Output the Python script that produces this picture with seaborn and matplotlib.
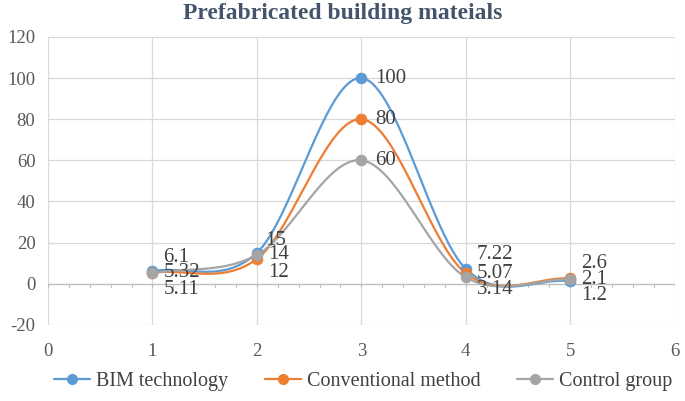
import numpy as np
import pandas as pd
import matplotlib
matplotlib.use('Agg')
import matplotlib.pyplot as plt
import seaborn as sns

# Data
x_vals = [1, 2, 3, 4, 5]
bim = [6.1, 15, 100, 7.22, 1.2]
conventional = [5.32, 12, 80, 5.07, 2.6]
control = [5.11, 14, 60, 3.14, 2.1]
series_names = ['BIM technology', 'Conventional method', 'Control group']
colors = ['#5B9BD5', '#ED7D31', '#A5A5A5']

# label placement per point: offsets in points (dx, dy)
label_offsets = {
    'BIM technology': [(8, 10), (6, 9), (10, 0), (8, 10), (8, -10)],
    'Conventional method': [(8, 0), (8, -10), (10, 0), (8, 0), (8, 11)],
    'Control group': [(8, -12), (8, 0), (10, 0), (8, -9), (8, 0)],
}


def smooth(xs, ys, n=40):
    # Catmull-Rom style smoothing similar to Excel "smoothed line"
    xs = np.asarray(xs, float)
    ys = np.asarray(ys, float)
    px = np.concatenate([[2 * xs[0] - xs[1]], xs, [2 * xs[-1] - xs[-2]]])
    py = np.concatenate([[2 * ys[0] - ys[1]], ys, [2 * ys[-1] - ys[-2]]])
    out_x, out_y = [], []
    t = np.linspace(0, 1, n)
    for i in range(1, len(px) - 2):
        p0x, p1x, p2x, p3x = px[i - 1:i + 3]
        p0y, p1y, p2y, p3y = py[i - 1:i + 3]
        h00 = 2 * t**3 - 3 * t**2 + 1
        h10 = t**3 - 2 * t**2 + t
        h01 = -2 * t**3 + 3 * t**2
        h11 = t**3 - t**2
        m1x, m2x = (p2x - p0x) / 2, (p3x - p1x) / 2
        m1y, m2y = (p2y - p0y) / 2, (p3y - p1y) / 2
        out_x.extend(h00 * p1x + h10 * m1x + h01 * p2x + h11 * m2x)
        out_y.extend(h00 * p1y + h10 * m1y + h01 * p2y + h11 * m2y)
    return np.array(out_x), np.array(out_y)


sns.set_style('white')
plt.rcParams['font.family'] = ['Liberation Serif', 'DejaVu Serif']
plt.rcParams['axes.unicode_minus'] = False

fig = plt.figure(figsize=(6.85, 4.01), dpi=100)
ax = fig.add_axes([0.070, 0.190, 0.915, 0.718])

data = {'BIM technology': bim, 'Conventional method': conventional, 'Control group': control}
for name, col in zip(series_names, colors):
    sx, sy = smooth(x_vals, data[name])
    sns.lineplot(x=sx, y=sy, ax=ax, color=col, linewidth=1.6, sort=False, zorder=3)
    sns.scatterplot(x=x_vals, y=data[name], ax=ax, color=col, s=60, edgecolor=col,
                    zorder=4, legend=False)
    for xv, yv, (dx, dy) in zip(x_vals, data[name], label_offsets[name]):
        ax.annotate(f'{yv:g}', (xv, yv), xytext=(dx, dy), textcoords='offset points',
                    ha='left', va='center', fontsize=15, color='#404040', zorder=5,
                    family='Liberation Serif')

# legend handles
for name, col in zip(series_names, colors):
    ax.plot([], [], color=col, marker='o', markersize=7, linewidth=1.6, label=name)

ax.set_xlim(0, 6)
ax.set_ylim(-20, 120)
ax.set_xticks(range(0, 7))
ax.set_yticks(range(-20, 121, 20))
ax.grid(True, color='#D9D9D9', linewidth=0.9)
ax.set_axisbelow(True)
for s in ax.spines.values():
    s.set_visible(False)

# horizontal axis line at 0 with small ticks
ax.axhline(0, color='#BFBFBF', linewidth=0.9, zorder=2)
for t in np.arange(0, 6.01, 0.2):
    ax.plot([t, t], [0, -1.6], color='#BFBFBF', linewidth=0.8, zorder=2)

ax.tick_params(axis='both', length=0, labelsize=13.5, labelcolor='#595959')
ax.tick_params(axis='x', pad=13)
ax.tick_params(axis='y', pad=9)
for lab in ax.get_xticklabels() + ax.get_yticklabels():
    lab.set_family('Liberation Serif')

fig.text(0.5, 0.967, 'Prefabricated building mateials', ha='center', va='center',
         fontsize=17, fontweight='bold', color='#44546A', family='Liberation Serif')

fig.legend(loc='lower center', bbox_to_anchor=(0.53, -0.02), ncol=3, frameon=False,
           prop={'family': 'Liberation Serif', 'size': 14.5}, labelcolor='#404040',
           handlelength=1.8, columnspacing=1.8, handletextpad=0.3)

fig.savefig('out.png', dpi=100)
